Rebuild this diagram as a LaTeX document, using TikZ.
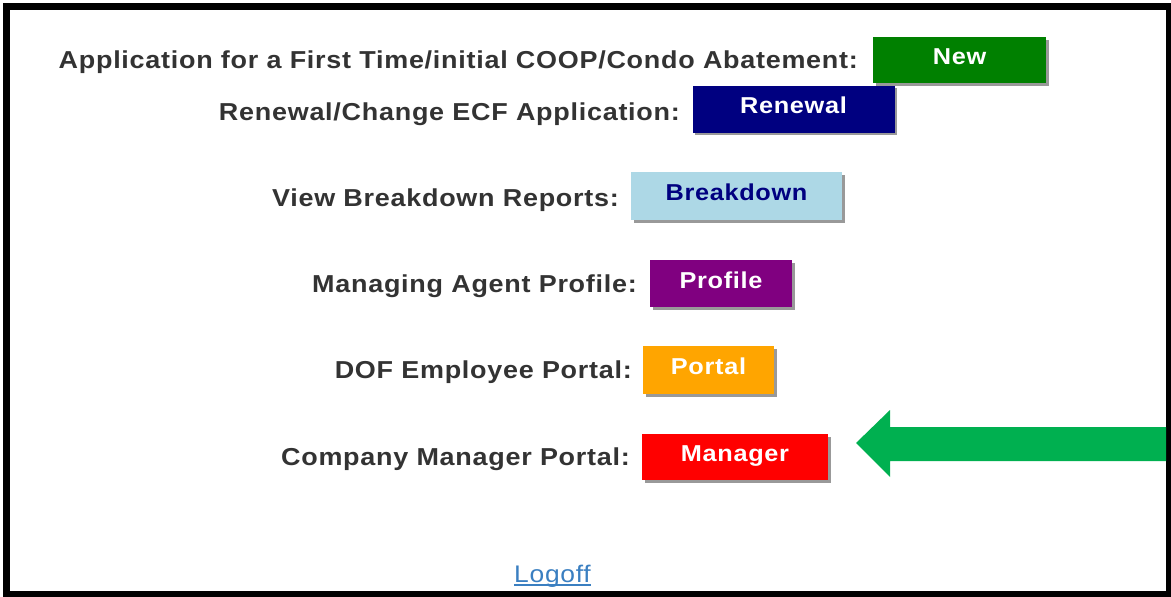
\documentclass[tikz,border=0pt]{standalone}
\usepackage{fontspec}
\setmainfont{Liberation Sans}
\newfontfamily\spacedfont{Liberation Sans}[FakeStretch=1.1,LetterSpace=3]
\usetikzlibrary{shadows}
\definecolor{lbl}{HTML}{333333}
\definecolor{bgreen}{HTML}{008000}
\definecolor{bnavy}{HTML}{000080}
\definecolor{blight}{HTML}{ADD8E6}
\definecolor{bpurple}{HTML}{800080}
\definecolor{borange}{HTML}{FFA500}
\definecolor{bred}{HTML}{FF0000}
\definecolor{arrowgreen}{HTML}{00B050}
\definecolor{linkblue}{HTML}{3A7FC1}
\begin{document}
\begin{tikzpicture}[x=1pt,y=-1pt,
  lab/.style={anchor=base east, inner sep=0pt, text=lbl, font=\spacedfont\fontsize{24.5}{28}\selectfont\bfseries},
  btn/.style={inner sep=0pt, text=white, font=\spacedfont\fontsize{23}{26}\selectfont\bfseries,
    text height=17pt, text depth=8pt,
    drop shadow={shadow xshift=2.5pt, shadow yshift=-2.5pt, fill=gray!80, opacity=1}},
  link/.style={anchor=base, inner sep=0pt, text=linkblue, font=\spacedfont\fontsize{24}{28}\selectfont}
]
\useasboundingbox (0,0) rectangle (1171,597);
\fill[white] (0,0) rectangle (1171,597);
\draw[line width=7pt] (6.5,6.5) rectangle (1169.5,594.5);

\node[lab] (l1) at (858,68) {Application for a First Time/initial COOP/Condo Abatement:};
\node[btn, fill=bgreen, minimum width=173pt, minimum height=46pt] (b1) at (959.5,60) {New};

\node[lab] (l2) at (680,120) {Renewal/Change ECF Application:};
\node[btn, fill=bnavy, minimum width=202pt, minimum height=47pt] (b2) at (793.5,109) {Renewal};

\node[lab] (l3) at (619,206) {View Breakdown Reports:};
\node[btn, fill=blight, text=bnavy, minimum width=211pt, minimum height=48pt] (b3) at (736.5,196) {Breakdown};

\node[lab] (l4) at (637,292) {Managing Agent Profile:};
\node[btn, fill=bpurple, minimum width=142pt, minimum height=47pt] (b4) at (721,283.5) {Profile};

\node[lab] (l5) at (632,378) {DOF Employee Portal:};
\node[btn, fill=borange, minimum width=131pt, minimum height=48pt] (b5) at (708.5,370) {Portal};

\node[lab] (l6) at (630,465) {Company Manager Portal:};
\node[btn, fill=bred, minimum width=186pt, minimum height=46pt] (b6) at (735,457) {Manager};

\node[link] (logoff) at (552.5,582) {Logoff};
\draw[linkblue, line width=1.6pt] ([yshift=-3pt]logoff.base west) -- ([yshift=-3pt]logoff.base east);

\coordinate (tip) at (856,443);
\fill[arrowgreen] (tip) -- (890,410) -- (890,427) -- (1166,427) -- (1166,461) -- (890,461) -- (890,477) -- cycle;
\end{tikzpicture}
\end{document}
